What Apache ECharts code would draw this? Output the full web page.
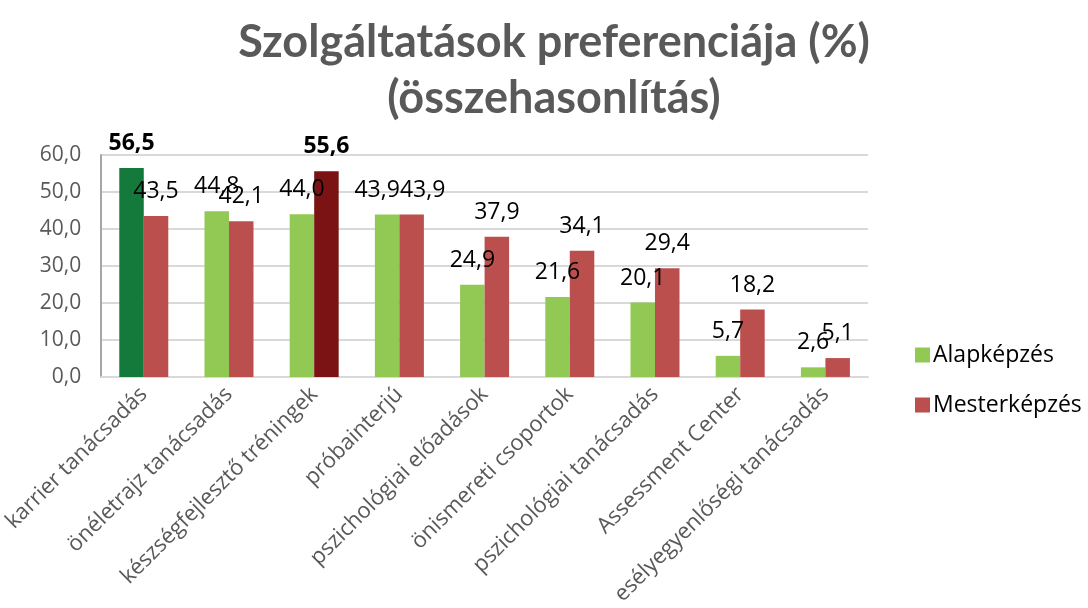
<!DOCTYPE html>
<html>
<head>
<meta charset="utf-8">
<script src="https://cdn.jsdelivr.net/npm/echarts@6/dist/echarts.min.js"></script>
<style>
  html, body { margin: 0; padding: 0; background: #ffffff; }
  #chart { width: 1088px; height: 608px; }
</style>
</head>
<body>
<div id="chart"></div>
<script>
// Services and the share of students preferring each (%)
const categories = [
  'karrier tanácsadás',
  'önéletrajz tanácsadás',
  'készségfejlesztő tréningek',
  'próbainterjú',
  'pszichológiai előadások',
  'önismereti csoportok',
  'pszichológiai tanácsadás',
  'Assessment Center',
  'esélyegyenlőségi tanácsadás'
];
const alapkepzes = [56.5, 44.8, 44.0, 43.9, 24.9, 21.6, 20.1, 5.7, 2.6];
const mesterkepzes = [43.5, 42.1, 55.6, 43.9, 37.9, 34.1, 29.4, 18.2, 5.1];
const seriesNames = ['Alapképzés', 'Mesterképzés'];
const yTicks = { min: 0, max: 60, interval: 10 };

// Highest value of each series is highlighted in a darker shade with a bold label
const GREEN = '#92c954', DARK_GREEN = '#147a3c';
const RED = '#ba4f4d', DARK_RED = '#7b1315';

const fmt = v => v.toFixed(1).replace('.', ',');
const FONT = '"Open Sans", sans-serif';

// Equal values side by side: nudge their labels apart so both stay legible
function buildData(values, dark, tieShift) {
  const maxV = Math.max(...values);
  return values.map((v, i) => {
    const item = { value: v };
    if (v === maxV) {
      item.itemStyle = { color: dark };
      item.label = { fontWeight: 'bold' };
    }
    if (alapkepzes[i] === mesterkepzes[i]) {
      item.label = Object.assign(item.label || {}, { offset: [tieShift, 0] });
    }
    return item;
  });
}

const chart = echarts.init(document.getElementById('chart'), null, { renderer: 'canvas' });

const labelStyle = {
  show: true,
  position: 'top',
  distance: 13,
  formatter: p => fmt(p.value),
  color: '#000000',
  fontFamily: FONT,
  fontSize: 23
};

chart.setOption({
  animation: false,
  backgroundColor: '#ffffff',
  title: {
    text: 'Szolgáltatások preferenciája (%)\n(összehasonlítás)',
    left: 549,
    textAlign: 'center',
    top: 9,
    textStyle: {
      fontFamily: 'Lato, sans-serif',
      fontWeight: 'bold',
      fontSize: 45,
      color: '#595959',
      lineHeight: 56
    }
  },
  legend: {
    orient: 'vertical',
    left: 910,
    top: 337,
    itemWidth: 15,
    itemHeight: 15,
    itemGap: 24,
    icon: 'rect',
    data: seriesNames,
    textStyle: { fontFamily: FONT, fontSize: 23, lineHeight: 26, color: '#000000', padding: [0, 0, 0, -2] }
  },
  grid: { left: 98, right: 220, top: 155, bottom: 229, containLabel: false },
  xAxis: {
    type: 'category',
    data: categories,
    axisLine: { lineStyle: { color: '#d9d9d9', width: 2 } },
    axisTick: { show: false },
    axisLabel: {
      rotate: 45,
      interval: 0,
      margin: 14,
      color: '#595959',
      fontFamily: FONT,
      fontSize: 22
    }
  },
  yAxis: {
    type: 'value',
    min: yTicks.min,
    max: yTicks.max,
    interval: yTicks.interval,
    axisLine: { show: true, lineStyle: { color: '#a6a6a6', width: 2 } },
    axisTick: { show: false },
    splitLine: { lineStyle: { color: '#d9d9d9', width: 2 } },
    axisLabel: {
      formatter: v => fmt(v),
      color: '#595959',
      fontFamily: FONT,
      fontSize: 21,
      margin: 20
    }
  },
  series: [
    {
      name: seriesNames[0],
      type: 'bar',
      data: buildData(alapkepzes, DARK_GREEN, -10),
      itemStyle: { color: GREEN },
      barWidth: 24.5,
      barGap: '0%',
      label: labelStyle
    },
    {
      name: seriesNames[1],
      type: 'bar',
      data: buildData(mesterkepzes, DARK_RED, 11),
      itemStyle: { color: RED },
      barWidth: 24.5,
      barGap: '0%',
      label: labelStyle
    }
  ]
});
</script>
</body>
</html>
